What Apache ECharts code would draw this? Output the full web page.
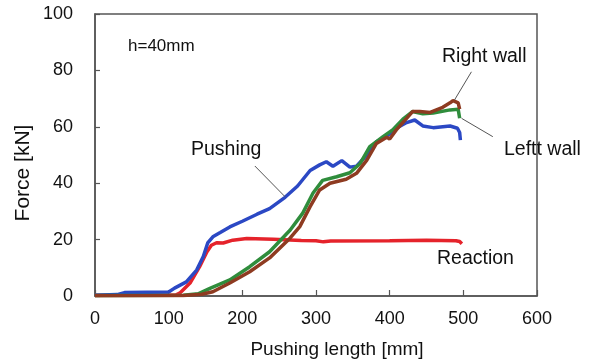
<!DOCTYPE html>
<html>
<head>
<meta charset="utf-8">
<script src="https://cdn.jsdelivr.net/npm/echarts@6/dist/echarts.min.js"></script>
<style>
  html, body { margin: 0; padding: 0; background: #fff; }
  #chart { width: 605px; height: 363px; }
</style>
</head>
<body>
<div id="chart"></div>
<script>
// values, [pushing length mm, force kN]
const pushing = [
  [0, 0.3], [30, 0.5], [40, 1.2], [70, 1.3], [100, 1.4], [108, 2.8], [124, 5], [138, 9.2],
  [147, 14], [153, 18.8], [160, 21], [170, 22.5], [183, 24.5], [200, 26.5], [220, 29],
  [237, 31], [258, 35], [275, 39], [292, 44.5], [305, 46.5], [314, 47.6], [323, 46],
  [335, 48], [346, 45.7], [355, 46], [369, 50], [382, 54.7], [396, 56.7], [409, 59.5],
  [423, 61.5], [434, 62.4], [445, 60.3], [459, 59.7], [482, 60.3], [492, 59.5],
  [495, 58], [496, 55.3]
];
const reaction = [
  [0, 0.3], [110, 0.4], [115, 1], [129, 4.6], [142, 10.4], [152, 15.7], [158, 18],
  [165, 18.9], [174, 18.8], [187, 19.8], [206, 20.4], [242, 20.1], [280, 19.7],
  [300, 19.6], [310, 19.2], [320, 19.5], [400, 19.6], [450, 19.8], [490, 19.6],
  [495, 19.3], [498, 18.5]
];
const leftWall = [
  [0, 0.2], [120, 0.3], [140, 0.8], [156, 2.7], [183, 5.7], [210, 10.4], [237, 15.7],
  [265, 23.4], [282, 29.4], [296, 36.5], [309, 41], [328, 42.3], [346, 43.7], [360, 47],
  [373, 53], [391, 56.5], [404, 58.9], [418, 62.7], [431, 65.4], [445, 64.6], [459, 64.9],
  [482, 66], [493, 66.2], [495, 63]
];
const rightWall = [
  [0, 0.1], [120, 0.2], [145, 0.6], [160, 1.5], [183, 4.6], [210, 8.6], [237, 13.5],
  [265, 20.6], [278, 24.6], [292, 31.7], [305, 37.6], [319, 40], [341, 41.4], [355, 43.5],
  [369, 48.2], [382, 54.1], [396, 56.3], [400, 55.7], [409, 58.9], [423, 63], [431, 65.4],
  [441, 65.4], [455, 65.1], [472, 66.9], [482, 68.5], [486, 69.3], [493, 68.5], [495, 66.3]
];
const xTicks = [0, 100, 200, 300, 400, 500, 600];
const yTicks = [0, 20, 40, 60, 80, 100];

const font = 'Liberation Sans, Arial, sans-serif';
const axisColor = '#555';

function curve(name, data, color) {
  return {
    name: name,
    type: 'line',
    data: data,
    showSymbol: false,
    lineStyle: { color: color, width: 3.5 },
    z: 3
  };
}

// thin leader line from a label to its curve
function leader(from, to) {
  return {
    type: 'line',
    data: [],
    silent: true,
    markLine: {
      symbol: 'none',
      silent: true,
      label: { show: false },
      lineStyle: { color: '#555', width: 1, type: 'solid' },
      data: [[{ coord: from }, { coord: to }]]
    }
  };
}

function note(text, x, y, size) {
  return {
    type: 'text',
    left: x,
    top: y,
    style: { text: text, font: size + 'px ' + font, fill: '#111' }
  };
}

const chart = echarts.init(document.getElementById('chart'));
chart.setOption({
  animation: false,
  backgroundColor: '#fff',
  grid: {
    left: 95, top: 14, right: 68, bottom: 67,
    show: true, borderColor: axisColor, borderWidth: 1.5, backgroundColor: 'transparent'
  },
  xAxis: {
    type: 'value',
    min: xTicks[0],
    max: xTicks[xTicks.length - 1],
    interval: 100,
    axisLine: { lineStyle: { color: axisColor, width: 1.5 } },
    axisTick: { inside: true, length: 6, lineStyle: { color: axisColor, width: 1.2 } },
    axisLabel: { color: '#111', fontFamily: font, fontSize: 18, margin: 14 },
    splitLine: { show: false }
  },
  yAxis: {
    type: 'value',
    min: yTicks[0],
    max: yTicks[yTicks.length - 1],
    interval: 20,
    axisLine: { show: true, lineStyle: { color: axisColor, width: 1.5 } },
    axisTick: { show: true, inside: true, length: 5, lineStyle: { color: axisColor, width: 1.2 } },
    axisLabel: { color: '#111', fontFamily: font, fontSize: 18, margin: 22 },
    splitLine: { show: false }
  },
  series: [
    curve('Reaction', reaction, '#e5232b'),
    curve('Pushing', pushing, '#2b48c4'),
    curve('Leftt wall', leftWall, '#2f8d3c'),
    curve('Right wall', rightWall, '#8e3b21'),
    leader([217, 46.1], [258, 35.2]),
    leader([488, 69.5], [511, 79.5]),
    leader([497.6, 63], [540, 56.5])
  ],
  graphic: [
    note('h=40mm', 128, 38, 17),
    note('Pushing', 191, 140, 19.5),
    note('Right wall', 442, 47, 19.5),
    note('Leftt wall', 504, 140, 19.5),
    note('Reaction', 437, 249, 19.5),
    {
      type: 'text',
      x: 337, y: 350,
      style: {
        text: 'Pushing length [mm]', font: '19px ' + font, fill: '#111',
        align: 'center', verticalAlign: 'middle'
      }
    },
    {
      type: 'text',
      x: 23, y: 173,
      rotation: Math.PI / 2,
      style: {
        text: 'Force [kN]', font: '21px ' + font, fill: '#111',
        align: 'center', verticalAlign: 'middle'
      }
    }
  ]
});
</script>
</body>
</html>
